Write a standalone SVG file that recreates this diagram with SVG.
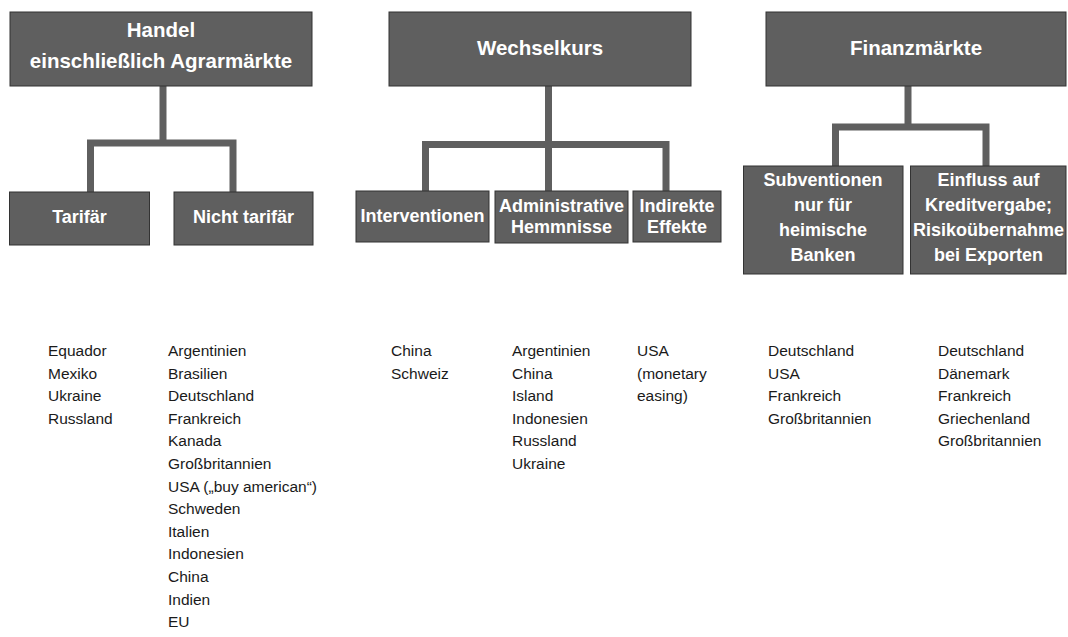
<svg xmlns="http://www.w3.org/2000/svg" width="1068" height="637" viewBox="0 0 1068 637">
<style>
.box{fill:#5f5f5f;stroke:#333;stroke-width:1}
.t{font-family:"Liberation Sans",Arial,sans-serif;font-weight:bold;fill:#fff;text-anchor:middle}
.h{font-size:20.5px}
.c{font-size:18px}
.l{font-family:"Liberation Sans",Arial,sans-serif;font-size:15.5px;fill:#1a1a1a}
.con{fill:none;stroke:#5f5f5f;stroke-width:7;stroke-linejoin:miter;stroke-linecap:butt}
</style>
<rect width="1068" height="637" fill="#fff"/>
<g id="connectors">
<path class="con" d="M163,86V143"/>
<path class="con" d="M90.5,192V143H233V192"/>
<path class="con" d="M548.5,86V191"/>
<path class="con" d="M425.5,191V144.5H666V191"/>
<path class="con" d="M908,86V127"/>
<path class="con" d="M835.5,166V127H986V166"/>
</g>
<g id="handel">
<rect class="box" x="10" y="12" width="302" height="74"/>
<text class="t h" x="161" y="37">Handel</text>
<text class="t h" x="161" y="68">einschließlich Agrarmärkte</text>
</g>
<g id="wechselkurs">
<rect class="box" x="389" y="12" width="302" height="74"/>
<text class="t h" x="540" y="55">Wechselkurs</text>
</g>
<g id="finanzmaerkte">
<rect class="box" x="766" y="12" width="300" height="74"/>
<text class="t h" x="916" y="55">Finanzmärkte</text>
</g>
<g id="tarifaer">
<rect class="box" x="9.5" y="192" width="140" height="53"/>
<text class="t c" x="79.5" y="223">Tarifär</text>
</g>
<g id="nicht-tarifaer">
<rect class="box" x="174" y="192" width="139" height="53"/>
<text class="t c" x="243.5" y="223">Nicht tarifär</text>
</g>
<g id="interventionen">
<rect class="box" x="356" y="191" width="133" height="51"/>
<text class="t c" x="422.5" y="222">Interventionen</text>
</g>
<g id="administrative">
<rect class="box" x="495" y="191" width="133" height="52"/>
<text class="t c" x="561.5" y="212">Administrative</text>
<text class="t c" x="561.5" y="233">Hemmnisse</text>
</g>
<g id="indirekte">
<rect class="box" x="633" y="191" width="88" height="51"/>
<text class="t c" x="677" y="212">Indirekte</text>
<text class="t c" x="677" y="233">Effekte</text>
</g>
<g id="subventionen">
<rect class="box" x="743.5" y="166" width="159.5" height="108"/>
<text class="t c" x="823" y="186">Subventionen</text>
<text class="t c" x="823" y="211">nur für</text>
<text class="t c" x="823" y="236">heimische</text>
<text class="t c" x="823" y="261">Banken</text>
</g>
<g id="einfluss">
<rect class="box" x="910.5" y="166" width="155.5" height="108"/>
<text class="t c" x="988.5" y="186">Einfluss auf</text>
<text class="t c" x="988.5" y="211">Kreditvergabe;</text>
<text class="t c" x="988.5" y="236">Risikoübernahme</text>
<text class="t c" x="988.5" y="261">bei Exporten</text>
</g>
<g id="list-tarifaer">
<text class="l" x="48" y="356">Equador</text>
<text class="l" x="48" y="378.6">Mexiko</text>
<text class="l" x="48" y="401.2">Ukraine</text>
<text class="l" x="48" y="423.8">Russland</text>
</g>
<g id="list-nicht-tarifaer">
<text class="l" x="168" y="356">Argentinien</text>
<text class="l" x="168" y="378.6">Brasilien</text>
<text class="l" x="168" y="401.2">Deutschland</text>
<text class="l" x="168" y="423.8">Frankreich</text>
<text class="l" x="168" y="446.4">Kanada</text>
<text class="l" x="168" y="469">Großbritannien</text>
<text class="l" x="168" y="491.6">USA („buy american“)</text>
<text class="l" x="168" y="514.2">Schweden</text>
<text class="l" x="168" y="536.8">Italien</text>
<text class="l" x="168" y="559.4">Indonesien</text>
<text class="l" x="168" y="582">China</text>
<text class="l" x="168" y="604.6">Indien</text>
<text class="l" x="168" y="627.2">EU</text>
</g>
<g id="list-interventionen">
<text class="l" x="391" y="356">China</text>
<text class="l" x="391" y="378.6">Schweiz</text>
</g>
<g id="list-administrative">
<text class="l" x="512" y="356">Argentinien</text>
<text class="l" x="512" y="378.6">China</text>
<text class="l" x="512" y="401.2">Island</text>
<text class="l" x="512" y="423.8">Indonesien</text>
<text class="l" x="512" y="446.4">Russland</text>
<text class="l" x="512" y="469">Ukraine</text>
</g>
<g id="list-indirekte">
<text class="l" x="637" y="356">USA</text>
<text class="l" x="637" y="378.6">(monetary</text>
<text class="l" x="637" y="401.2">easing)</text>
</g>
<g id="list-subventionen">
<text class="l" x="768" y="356">Deutschland</text>
<text class="l" x="768" y="378.6">USA</text>
<text class="l" x="768" y="401.2">Frankreich</text>
<text class="l" x="768" y="423.8">Großbritannien</text>
</g>
<g id="list-einfluss">
<text class="l" x="938" y="356">Deutschland</text>
<text class="l" x="938" y="378.6">Dänemark</text>
<text class="l" x="938" y="401.2">Frankreich</text>
<text class="l" x="938" y="423.8">Griechenland</text>
<text class="l" x="938" y="446.4">Großbritannien</text>
</g>
</svg>
